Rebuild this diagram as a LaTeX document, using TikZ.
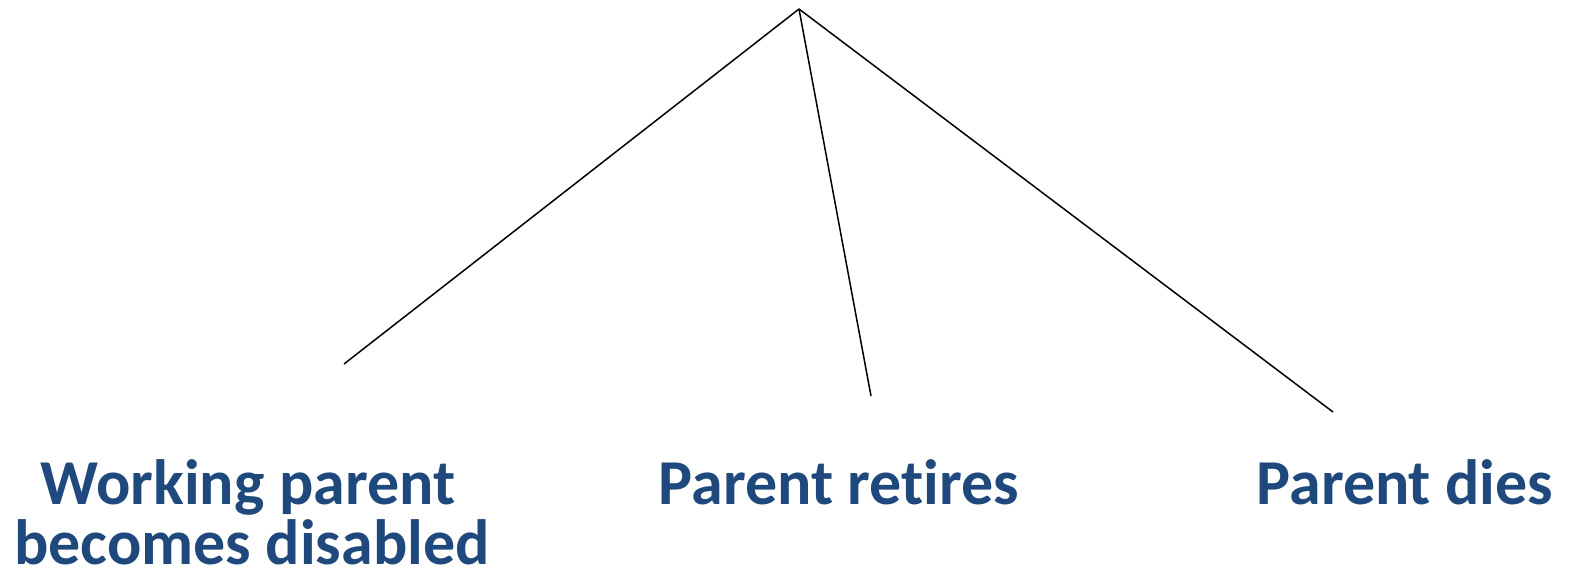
\documentclass[tikz,border=0pt]{standalone}
\usepackage{fontspec}
\setmainfont{Carlito}[Ligatures=NoCommon]
\definecolor{lblblue}{HTML}{1F497D}
\tikzset{
  lbl/.style={font=\bfseries\fontsize{64}{64}\selectfont, text=lblblue, inner sep=0pt, align=center, anchor=base},
  conn/.style={draw=black, line width=1.5pt}
}
\begin{document}
\begin{tikzpicture}[x=1pt,y=-1pt]
\useasboundingbox (0,0) rectangle (1572,574);
\coordinate (apex) at (799,9);
\coordinate (e1) at (344,364);
\coordinate (e2) at (871,396);
\coordinate (e3) at (1333,412);
\draw[conn] (apex) -- (e1);
\draw[conn] (apex) -- (e2);
\draw[conn] (apex) -- (e3);
\node[lbl] (t1a) at (248,504) {Working parent};
\node[lbl] (t1b) at (252,564) {becomes disabled};
\node[lbl] (t2) at (839,504) {Parent ret\kern0pt ires};
\node[lbl] (t3) at (1405,504) {Parent dies};
\end{tikzpicture}
\end{document}
